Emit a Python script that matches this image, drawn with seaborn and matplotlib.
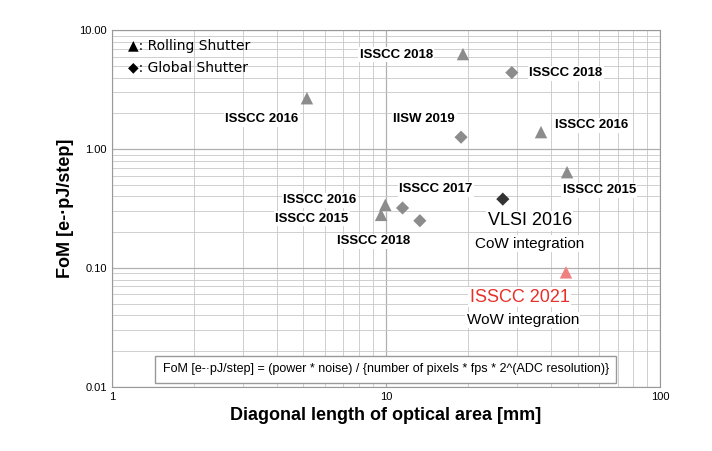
import matplotlib
matplotlib.use("Agg")
import matplotlib.pyplot as plt
import seaborn as sns
import pandas as pd

# data
diag_len = [5.15, 19.1, 28.8, 18.8, 36.8, 45.8, 26.7, 9.95, 9.6, 11.5, 13.3, 45.4]
fom = [2.68, 6.3, 4.4, 1.26, 1.39, 0.64, 0.38, 0.34, 0.28, 0.32, 0.25, 0.092]
shutter = ["R", "R", "G", "G", "R", "R", "G", "R", "R", "G", "G", "R"]
point_color = ["#8c8c8c"] * 6 + ["#333333"] + ["#8c8c8c"] * 4 + ["#f08080"]

label_text = ["ISSCC 2018", "ISSCC 2018", "ISSCC 2016", "IISW 2019", "ISSCC 2016",
              "ISSCC 2017", "ISSCC 2015", "ISSCC 2016", "ISSCC 2015", "ISSCC 2018"]
label_x = [10.9, 45.3, 3.53, 13.8, 56.4, 15.2, 60.1, 5.74, 5.37, 9.04]
label_y = [6.2, 4.35, 1.79, 1.79, 1.59, 0.46, 0.45, 0.37, 0.26, 0.168]

df = pd.DataFrame({"x": diag_len, "y": fom, "s": shutter, "c": point_color})

sns.set_style("white")
plt.rcParams['font.family'] = ['Liberation Sans', 'DejaVu Sans']
plt.rcParams['text.color'] = 'black'
fig = plt.figure(figsize=(7.12, 4.51), dpi=100)
ax = fig.add_axes([0.157, 0.142, 0.77, 0.791])

for (s, c), g in df.groupby(["s", "c"]):
    sns.scatterplot(data=g, x="x", y="y", ax=ax, marker="^" if s == "R" else "D",
                    color=c, s=80 if s == "R" else 45, edgecolor="none", legend=False)

ax.set_xscale("log")
ax.set_yscale("log")
ax.set_xlim(1, 100)
ax.set_ylim(0.01, 10)
ax.grid(True, which="major", color="#b0b0b0", lw=0.9)
ax.grid(True, which="minor", color="#c8c8c8", lw=0.6)
ax.set_yticks([0.01, 0.1, 1, 10])
ax.set_yticklabels(["0.01", "0.10", "1.00", "10.00"], fontsize=8)
ax.set_xticks([1, 10, 100])
ax.set_xticklabels(["1", "10", "100"], fontsize=8)
ax.tick_params(which="both", length=0, colors="black")
for sp in ax.spines.values():
    sp.set_color("#999999")

ax.set_xlabel("Diagonal length of optical area [mm]", fontsize=13, fontweight="bold", color="black")
ax.set_ylabel("FoM [e-·pJ/step]", fontsize=13, fontweight="bold", color="black")

for t, x, y in zip(label_text, label_x, label_y):
    ax.text(x, y, t, fontsize=9.5, fontweight="bold", ha="center", va="center",
            bbox=dict(facecolor="white", edgecolor="none", pad=1))

ax.text(33.5, 0.25, "VLSI 2016", fontsize=13, ha="center", va="center",
        bbox=dict(facecolor="white", edgecolor="none", pad=1))
ax.text(33.5, 0.16, "CoW integration", fontsize=11, ha="center", va="center",
        bbox=dict(facecolor="white", edgecolor="none", pad=1))
ax.text(30.8, 0.057, "ISSCC 2021", fontsize=13, color="#e8302a", ha="center", va="center",
        bbox=dict(facecolor="white", edgecolor="none", pad=1))
ax.text(31.6, 0.0365, "WoW integration", fontsize=11, ha="center", va="center",
        bbox=dict(facecolor="white", edgecolor="none", pad=1))

ax.text(0.03, 0.955, "▲: Rolling Shutter", transform=ax.transAxes, fontsize=10, va="center",
        family=['DejaVu Sans'])
ax.text(0.03, 0.895, "◆: Global Shutter", transform=ax.transAxes, fontsize=10, va="center",
        family=['DejaVu Sans'])

ax.text(0.5, 0.05, "FoM [e-·pJ/step] = (power * noise) / {number of pixels * fps * 2^(ADC resolution)}",
        transform=ax.transAxes, fontsize=9, ha="center", va="center",
        bbox=dict(facecolor="white", edgecolor="#999999", boxstyle="square,pad=0.6"))

fig.savefig("out.png", dpi=100)
